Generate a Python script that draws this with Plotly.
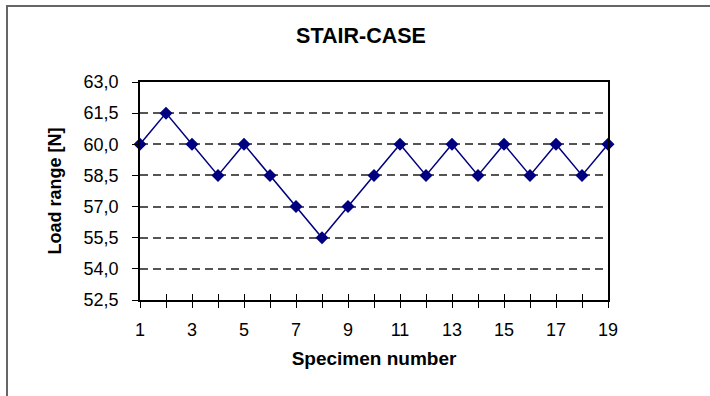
import plotly.graph_objects as go

# Stair-case fatigue test: load range applied to each specimen
specimen = list(range(1, 20))
load_range = [60.0, 61.5, 60.0, 58.5, 60.0, 58.5, 57.0, 55.5, 57.0, 58.5,
              60.0, 58.5, 60.0, 58.5, 60.0, 58.5, 60.0, 58.5, 60.0]
y_ticks = [52.5, 54.0, 55.5, 57.0, 58.5, 60.0, 61.5, 63.0]
x_ticks = [1, 3, 5, 7, 9, 11, 13, 15, 17, 19]

W, H = 710, 396
L, R, T, B = 140, 102, 82, 96
pw, ph = W - L - R, H - T - B

FONT = "Liberation Sans, Arial, sans-serif"
NAVY = "#000080"

fig = go.Figure()
fig.add_trace(go.Scatter(
    x=specimen, y=load_range, mode="lines+markers",
    line=dict(color=NAVY, width=1.5),
    marker=dict(symbol="diamond", size=10, color=NAVY),
    cliponaxis=False, showlegend=False,
))
# empty trace on an overlaid axis so the x ticks cross the axis line
fig.add_trace(go.Scatter(x=[specimen[0]], y=[load_range[0]], xaxis="x2",
                         mode="markers", marker=dict(opacity=0),
                         showlegend=False, hoverinfo="skip"))

fig.update_layout(
    width=W, height=H,
    margin=dict(l=L, r=R, t=T, b=B),
    paper_bgcolor="white", plot_bgcolor="white",
    separators=",.",
    font=dict(family=FONT, size=17, color="black"),
    title=dict(text="<b>STAIR-CASE</b>", x=361 / W, xref="container",
               xanchor="center", y=1 - 35 / H, yref="container",
               yanchor="middle", font=dict(size=21.5, family=FONT)),
    xaxis=dict(
        range=[1, 19], tickvals=x_ticks, ticks="outside", ticklen=6,
        tickcolor="black", tickwidth=1.2, ticklabelstandoff=7,
        minor=dict(tickvals=specimen, ticks="outside", ticklen=6,
                   tickcolor="black", tickwidth=1.2, showgrid=False),
        showgrid=False, zeroline=False,
        showline=True, linecolor="black", linewidth=1.5, mirror=True,
        title=dict(text="<b>Specimen number</b>", standoff=12,
                   font=dict(size=19)),
        tickfont=dict(size=18),
    ),
    xaxis2=dict(
        overlaying="x", matches="x", range=[1, 19], side="bottom",
        tickvals=specimen, ticks="inside", ticklen=6, tickcolor="black",
        tickwidth=1.2, showticklabels=False, showgrid=False,
        zeroline=False, showline=False,
    ),
    yaxis=dict(
        range=[52.5, 63.0], tickvals=y_ticks, tickformat=".1f",
        ticks="outside", ticklen=6, tickcolor="black", tickwidth=1.2,
        ticklabelstandoff=10,
        showgrid=True, gridcolor="#555555", gridwidth=1.5,
        griddash="8px,5px", zeroline=False,
        showline=True, linecolor="black", linewidth=1.5, mirror=True,
        title=dict(text="<b>Load range [N]</b>", standoff=17,
                   font=dict(size=18)),
        tickfont=dict(size=18),
    ),
    shapes=[dict(
        type="rect", xref="paper", yref="paper", layer="below",
        x0=(7 - L) / pw, x1=(W + 5 - L) / pw,
        y0=(T + ph - H - 5) / ph, y1=1 + (T - 6) / ph,
        line=dict(color="#666666", width=2), fillcolor="rgba(0,0,0,0)",
    )],
)

fig.write_html("out.html")
